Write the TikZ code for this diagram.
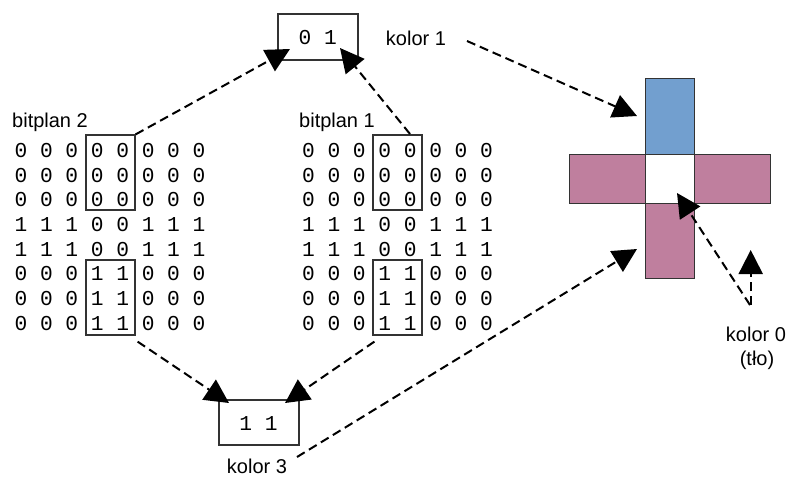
\documentclass[tikz,border=0pt]{standalone}
\usepackage{fontspec}
\setmainfont{Liberation Sans}
\newfontfamily\bitfont{Liberation Mono}
\usetikzlibrary{arrows.meta}

\definecolor{cellblue}{HTML}{729FCF}
\definecolor{cellpink}{HTML}{BF7F9E}
\definecolor{edge}{HTML}{333333}

\begin{document}
\begin{tikzpicture}[x=1pt,y=-1pt,
  lbl/.style={font=\fontsize{20}{24}\selectfont, inner sep=0pt, anchor=base},
  bits/.style={font=\bitfont\fontsize{21.2}{24}\selectfont, inner sep=0pt, anchor=base},
  frame/.style={draw=edge, line width=1.2pt, inner sep=0pt},
  cell/.style={draw=edge, line width=1pt, inner sep=0pt},
  link/.style={line width=2pt, dash pattern=on 9pt off 5pt,
    -{Triangle[length=24pt,width=24pt]}}
]
\useasboundingbox (0,0) rectangle (789,477);

% two bit planes, one row per node
\node[lbl] (bp2) at (50,127) {bitplan 2};
\node[lbl] (bp1) at (337,127) {bitplan 1};
\foreach \row [count=\i from 0] in {
  0 0 0 0 0 0 0 0, 0 0 0 0 0 0 0 0, 0 0 0 0 0 0 0 0,
  1 1 1 0 0 1 1 1, 1 1 1 0 0 1 1 1,
  0 0 0 1 1 0 0 0, 0 0 0 1 1 0 0 0, 0 0 0 1 1 0 0 0}{
  \node[bits] (ra\i) at (110,157.3+24.7*\i) {\row};
  \node[bits] (rb\i) at (397.5,157.3+24.7*\i) {\row};
}

% framed columns
\node[frame, minimum width=49pt, minimum height=75pt] (b2top) at (110.5,172.5) {};
\node[frame, minimum width=49pt, minimum height=75pt] (b2bot) at (110.5,297.5) {};
\node[frame, minimum width=49pt, minimum height=75pt] (b1top) at (397.5,172.5) {};
\node[frame, minimum width=49pt, minimum height=75pt] (b1bot) at (397.5,297.5) {};

% resulting bit pairs
\node[frame, minimum width=80pt, minimum height=46pt] (p01) at (318,37) {};
\node[bits] (p01t) at (317.7,44.3) {0 1};
\node[frame, minimum width=80pt, minimum height=45pt] (p11) at (259,422.5) {};
\node[bits] (p11t) at (258.5,430.7) {1 1};

% colour labels
\node[lbl] (k1) at (416,45.7) {kolor 1};
\node[lbl] (k3) at (257,473) {kolor 3};
\node[lbl] (k0) at (756,341) {kolor 0};
\node[lbl] (k0b) at (757,365) {(tło)};

% the cross
\node[cell, fill=cellblue, minimum width=49pt, minimum height=76pt] (ctop) at (669.5,116) {};
\node[cell, fill=cellpink, minimum width=76pt, minimum height=49pt] (cleft) at (607,178.5) {};
\node[cell, fill=cellpink, minimum width=76pt, minimum height=49pt] (cright) at (732,178.5) {};
\node[cell, fill=white, minimum width=49pt, minimum height=49pt] (cmid) at (669.5,178.5) {};
\node[cell, fill=cellpink, minimum width=49pt, minimum height=75pt] (cbot) at (669.5,240.5) {};

% arrow tips and free ends
\coordinate (tA) at (290,49);
\coordinate (tB) at (340,48);
\coordinate (tC) at (229,403);
\coordinate (tD) at (285,403);
\coordinate (tE) at (637,116);
\coordinate (tF) at (637,249);
\coordinate (tG) at (677,193);
\coordinate (tH) at (750.7,250);
\coordinate (sB) at (410,134);
\coordinate (sE) at (467,41);
\coordinate (sF) at (297,457);
\coordinate (sG) at (750,305);
\coordinate (sH) at (750.7,305);

\draw[link] (b2top.north east) -- (tA);
\draw[link] (sB) -- (tB);
\draw[link] ([shift={(2pt,-6pt)}]b2bot.south east) -- (tC);
\draw[link] ([shift={(2pt,-6pt)}]b1bot.south west) -- (tD);
\draw[link] (sE) -- (tE);
\draw[link] (sF) -- (tF);
\draw[link] (sG) -- (tG);
\draw[link] (sH) -- (tH);
\end{tikzpicture}
\end{document}
